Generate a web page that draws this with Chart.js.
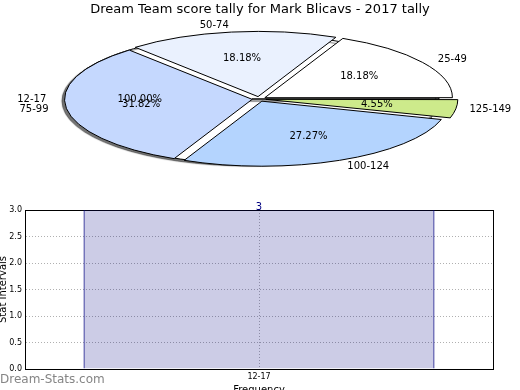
<!DOCTYPE html>
<html>
<head>
<meta charset="utf-8">
<script src="https://cdn.jsdelivr.net/npm/chart.js@4.4.1/dist/chart.umd.min.js"></script>
<style>
  html, body { margin: 0; padding: 0; background: #fff; }
  #wrap { position: relative; width: 520px; height: 390px; overflow: hidden; }
  canvas { position: absolute; left: 0; }
  #mark { position: absolute; left: 0; top: 372px; font: 12px 'DejaVu Sans', sans-serif; color: #858585; }
</style>
</head>
<body>
<div id="wrap">
  <canvas id="pieBase" width="520" height="390" style="top:0"></canvas>
  <canvas id="pie" width="520" height="390" style="top:0"></canvas>
  <canvas id="bar" width="520" height="210" style="top:190px"></canvas>
  <div id="mark">Dream-Stats.com</div>
</div>
<script>
var chartTitle = 'Dream Team score tally for Mark Blicavs - 2017 tally';

// first pie: the single 12-17 interval
var baseLabels = ['12-17'];
var baseValues = [1];

// second pie: other intervals (clockwise from east)
var pieLabels = ['125-149', '100-124', '75-99', '50-74', '25-49'];
var pieValues = [1, 6, 7, 4, 4];
var pieColors = ['#cdea8b', '#b4d4fe', '#c5d8fe', '#eaf1fe', '#ffffff'];

// bar chart
var barLabels = ['12-17'];
var barValues = [3];

var RX = 187, RY = 65;   // ellipse radii on screen
var FONT = "'DejaVu Sans', sans-serif";

function ellipseMap(chart) {
  var arc = chart.getDatasetMeta(0).data[0];
  var o = chart.options.plugins.ellipse;
  var sx = RX / arc.outerRadius, sy = RY / arc.outerRadius;
  return function (x, y) {
    return [o.cx + (x - arc.x) * sx, o.cy + (y - arc.y) * sy];
  };
}

function drawPieText(ctx, chart) {
  var map = ellipseMap(chart);
  var ds = chart.data.datasets[0];
  var total = ds.data.reduce(function (a, b) { return a + b; }, 0);
  ctx.save();
  ctx.font = '10px ' + FONT;
  ctx.fillStyle = '#000';
  ctx.textBaseline = 'middle';
  chart.getDatasetMeta(0).data.forEach(function (arc, i) {
    var mid = (arc.startAngle + arc.endAngle) / 2;
    var off = (arc.options.offset || 0) / 4;
    var c = Math.cos(mid), s = Math.sin(mid);
    var R = arc.outerRadius;
    var p = map(arc.x + c * (off + 1.1 * R), arc.y + s * (off + 1.1 * R));
    ctx.textAlign = c > 0 ? 'left' : 'right';
    ctx.fillText(chart.data.labels[i], p[0], p[1]);
    var q = map(arc.x + c * (off + 0.6 * R), arc.y + s * (off + 0.6 * R));
    ctx.textAlign = 'center';
    ctx.fillText((ds.data[i] / total * 100).toFixed(2) + '%', q[0], q[1]);
  });
  ctx.restore();
}

// squash the round pie into the flat ellipse, keep strokes 1px
var ellipse = {
  id: 'ellipse',
  beforeDatasetsDraw: function (chart) {
    var ctx = chart.ctx;
    var o = chart.options.plugins.ellipse;
    var arc = chart.getDatasetMeta(0).data[0];
    ctx.save();
    ctx.translate(o.cx, o.cy);
    ctx.scale(RX / arc.outerRadius, RY / arc.outerRadius);
    ctx.translate(-arc.x, -arc.y);
    var stroke = CanvasRenderingContext2D.prototype.stroke;
    ctx.stroke = function () {
      this.save();
      this.setTransform(1, 0, 0, 1, 0, 0);
      stroke.call(this);
      this.restore();
    };
    if (o.shadow) {
      ctx.shadowColor = 'rgba(0,0,0,0.55)';
      ctx.shadowOffsetX = -3;
      ctx.shadowOffsetY = 2;
      ctx.shadowBlur = 1;
    }
  },
  afterDatasetsDraw: function (chart) {
    delete chart.ctx.stroke;
    chart.ctx.restore();
  },
  afterDraw: function (chart) {
    if (chart.options.plugins.ellipse.texts) {
      drawPieText(chart.ctx, baseChart);
      drawPieText(chart.ctx, chart);
    }
  }
};

var baseChart = new Chart(document.getElementById('pieBase'), {
  type: 'pie',
  data: {
    labels: baseLabels,
    datasets: [{ data: baseValues, backgroundColor: '#ffffff', borderColor: '#000', borderWidth: 1 }]
  },
  options: {
    responsive: false,
    animation: false,
    rotation: 90,
    plugins: {
      legend: { display: false },
      tooltip: { enabled: false },
      ellipse: { cx: 252, cy: 99, shadow: true, texts: false }
    }
  },
  plugins: [ellipse]
});

var pieChart = new Chart(document.getElementById('pie'), {
  type: 'pie',
  data: {
    labels: pieLabels,
    datasets: [{ data: pieValues, backgroundColor: pieColors, borderColor: '#000', borderWidth: 1, offset: 25 }]
  },
  options: {
    responsive: false,
    animation: false,
    rotation: 90,
    plugins: {
      legend: { display: false },
      tooltip: { enabled: false },
      title: {
        display: true,
        text: chartTitle,
        color: '#000',
        font: { family: FONT, size: 13, weight: 'normal' },
        padding: { top: 2, bottom: 8 }
      },
      ellipse: { cx: 259, cy: 99, shadow: false, texts: true }
    }
  },
  plugins: [ellipse]
});

var barValueLabel = {
  id: 'barValueLabel',
  afterDatasetsDraw: function (chart) {
    var ctx = chart.ctx;
    ctx.save();
    ctx.font = '10px ' + FONT;
    ctx.fillStyle = '#000080';
    ctx.textAlign = 'center';
    ctx.textBaseline = 'alphabetic';
    chart.getDatasetMeta(0).data.forEach(function (bar, i) {
      ctx.fillText(String(chart.data.datasets[0].data[i]), bar.x, bar.y);
    });
    ctx.restore();
  }
};

var gridDash = { color: '#000', dash: [1, 2] };

new Chart(document.getElementById('bar'), {
  type: 'bar',
  data: {
    labels: barLabels,
    datasets: [{
      data: barValues,
      backgroundColor: 'rgba(0,0,128,0.2)',
      borderColor: '#000080',
      borderWidth: { left: 1, right: 1, top: 0, bottom: 0 },
      borderSkipped: false,
      barPercentage: 0.75,
      categoryPercentage: 1
    }]
  },
  options: {
    responsive: false,
    animation: false,
    layout: { padding: { top: 20, right: 27, left: 0, bottom: 0 } },
    plugins: { legend: { display: false }, tooltip: { enabled: false } },
    scales: {
      x: {
        grid: { offset: false, color: '#b0b0b0', drawTicks: false },
        border: gridDash,
        ticks: { color: '#000', font: { family: FONT, size: 8 }, padding: 3 },
        title: { display: true, text: 'Frequency', color: '#000', font: { family: FONT, size: 10 }, padding: { top: 0, bottom: 4 } },
        afterFit: function (s) { s.height = 31; }
      },
      y: {
        min: 0,
        max: 3,
        grid: { color: '#b0b0b0', drawTicks: false },
        border: gridDash,
        ticks: {
          stepSize: 0.5,
          color: '#000',
          font: { family: FONT, size: 8 },
          padding: 3,
          callback: function (v) { return v.toFixed(1); }
        },
        title: { display: true, text: 'Stat Intervals', color: '#000', font: { family: FONT, size: 10, lineHeight: 0.6 }, padding: 0 },
        afterFit: function (s) { s.width = 25; }
      },
      x2: {
        position: 'top',
        grid: { display: false },
        ticks: { display: false },
        border: { color: '#000' },
        afterFit: function (s) { s.height = 0; }
      },
      y2: {
        position: 'right',
        grid: { display: false },
        ticks: { display: false },
        border: { color: '#000' },
        afterFit: function (s) { s.width = 0; }
      }
    }
  },
  plugins: [barValueLabel]
});
</script>
</body>
</html>
